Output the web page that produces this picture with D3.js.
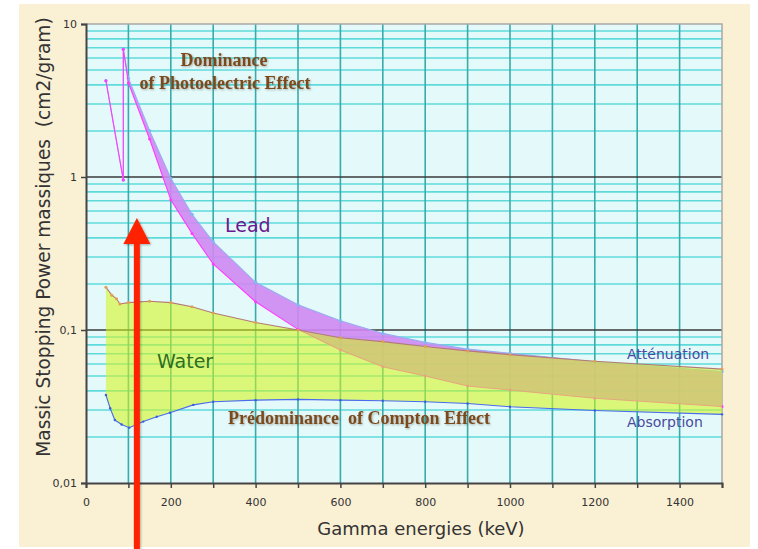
<!DOCTYPE html>
<html>
<head>
<meta charset="utf-8">
<script src="https://cdn.jsdelivr.net/npm/d3@7"></script>
<style>
  body { margin: 0; background: #fff; }
  svg { display: block; }
  .tick text { font-family: "DejaVu Sans", Verdana, sans-serif; font-size: 11px; fill: #333; }
</style>
</head>
<body>
<svg id="chart" width="758" height="549"></svg>
<script>
// energies in keV, values in cm2/gram
const leadAttE   = [47, 88, 88, 100, 150, 200, 250, 300, 400, 500, 600, 700, 800, 900, 1000, 1200, 1500];
const leadAttV   = [4.26, 0.956, 6.84, 4.42, 2.01, 0.98, 0.57, 0.377, 0.205, 0.146, 0.115, 0.095, 0.083, 0.075, 0.0705, 0.062, 0.0535];
const leadAbsE   = [47, 88, 88, 100, 150, 200, 250, 300, 400, 500, 600, 700, 800, 900, 1000, 1200, 1500];
const leadAbsV   = [4.26, 0.956, 6.84, 4.12, 1.77, 0.71, 0.428, 0.27, 0.153, 0.101, 0.074, 0.0575, 0.050, 0.043, 0.0405, 0.0358, 0.0316];
const waterAttE  = [47, 61, 72, 80, 100, 150, 200, 250, 300, 400, 500, 600, 700, 800, 900, 1000, 1200, 1500];
const waterAttV  = [0.19, 0.169, 0.16, 0.148, 0.151, 0.154, 0.151, 0.142, 0.129, 0.112, 0.100, 0.089, 0.084, 0.078, 0.073, 0.069, 0.0625, 0.0555];
const waterAbsE  = [47, 57, 68, 84, 102, 135, 167, 198, 253, 300, 400, 500, 600, 700, 800, 900, 1000, 1200, 1500];
const waterAbsV  = [0.0376, 0.0308, 0.0258, 0.0241, 0.0230, 0.0252, 0.0271, 0.0288, 0.0324, 0.034, 0.0348, 0.0352, 0.0348, 0.0345, 0.034, 0.0331, 0.0315, 0.0298, 0.0281];

const xTicks = d3.range(0, 1501, 100);
const yTicks = [0.01, 0.1, 1, 10];
const yTickLabels = ["0,01", "0,1", "1", "10"];

const svg = d3.select("#chart");
const W = 758, H = 549;
const margin = {left: 86, right: 36, top: 24, bottom: 66};

const x = d3.scaleLinear().domain([0, 1500]).range([margin.left, W - margin.right]);
const y = d3.scaleLog().domain([0.01, 10]).range([H - margin.bottom, margin.top]);

const defs = svg.append("defs");
const shadow = defs.append("filter").attr("id", "shadow").attr("x", "-20%").attr("y", "-20%").attr("width", "140%").attr("height", "140%");
shadow.append("feGaussianBlur").attr("in", "SourceAlpha").attr("stdDeviation", 1.3);
shadow.append("feOffset").attr("dx", 1.2).attr("dy", 1.2).attr("result", "off");
shadow.append("feComponentTransfer").append("feFuncA").attr("type", "linear").attr("slope", 0.3);
const merge = shadow.append("feMerge");
merge.append("feMergeNode");
merge.append("feMergeNode").attr("in", "SourceGraphic");

// page background
svg.append("rect").attr("x", 19).attr("y", 4).attr("width", 731).attr("height", 543).attr("fill", "#faf0d4");

// plot area
svg.append("rect")
    .attr("x", x(0)).attr("y", y(10))
    .attr("width", x(1500) - x(0)).attr("height", y(0.01) - y(10))
    .attr("fill", "#e4f9f9");

// minor horizontal grid
const minor = [];
[0.01, 0.1, 1].forEach(d => { for (let k = 2; k <= 9; k++) minor.push(d * k); });
svg.append("g").selectAll("line").data(minor).join("line")
    .attr("x1", x(0)).attr("x2", x(1500))
    .attr("y1", d => y(d)).attr("y2", d => y(d))
    .attr("stroke", "#5fdada").attr("stroke-width", 1.6);

// vertical grid
svg.append("g").selectAll("line").data(xTicks.filter(d => d > 0 && d < 1500)).join("line")
    .attr("x1", d => x(d)).attr("x2", d => x(d))
    .attr("y1", y(10)).attr("y2", y(0.01))
    .attr("stroke", "#3aabab").attr("stroke-width", 1.6);

// major horizontal lines
svg.append("g").selectAll("line").data([0.1, 1]).join("line")
    .attr("x1", x(0)).attr("x2", x(1500))
    .attr("y1", d => y(d)).attr("y2", d => y(d))
    .attr("stroke", "#3a3a3a").attr("stroke-width", 1.6);

// top and right border
svg.append("path")
    .attr("d", `M${x(0)},${y(10)}H${x(1500)}V${y(0.01)}`)
    .attr("fill", "none").attr("stroke", "#a8a8a8").attr("stroke-width", 1.5);

function zipData(es, vs) { return es.map((e, i) => ({e: e, v: vs[i]})); }
const leadAtt = zipData(leadAttE, leadAttV);
const leadAbs = zipData(leadAbsE, leadAbsV);
const waterAtt = zipData(waterAttE, waterAttV);
const waterAbs = zipData(waterAbsE, waterAbsV);

const line = d3.line().x(d => x(d.e)).y(d => y(d.v));
const band = d3.area()
    .x(d => x(d.e))
    .y0(d => y(d.lo))
    .y1(d => y(d.hi));

// lead band
const leadBand = leadAttE.map((e, i) => ({e: e, hi: leadAttV[i], lo: leadAbsV[i]}));
svg.append("path").datum(leadBand).attr("d", band)
    .attr("fill", "#cf88f2").attr("fill-opacity", 0.9);

function drawSeries(data, stroke, dot, r) {
  svg.append("path").datum(data).attr("d", line)
      .attr("fill", "none").attr("stroke", stroke).attr("stroke-width", 1.1);
  svg.append("g").selectAll("circle").data(data).join("circle")
      .attr("cx", d => x(d.e)).attr("cy", d => y(d.v)).attr("r", r)
      .attr("fill", dot);
}
drawSeries(leadAtt, "#96aef0", "#80b8f0", 1.7);
drawSeries(leadAbs, "#ff3cff", "#ff3cff", 1.5);

// water band: top = attenuation, bottom = absorption
const waterPoly = waterAtt.map(d => [x(d.e), y(d.v)])
    .concat(waterAbs.slice().reverse().map(d => [x(d.e), y(d.v)]));
svg.append("path")
    .attr("d", "M" + waterPoly.map(p => p.join(",")).join("L") + "Z")
    .attr("fill", "#d2f51e").attr("fill-opacity", 0.58);

drawSeries(waterAtt, "#b47a7a", "#e0a050", 1.5);
drawSeries(waterAbs, "#4a6ced", "#3a5ce0", 1.2);

// axes
const xAxis = d3.axisBottom(x)
    .tickValues(xTicks)
    .tickSize(5)
    .tickPadding(10)
    .tickFormat(d => (d % 200 === 0 && d < 1500) ? d : "");
const gx = svg.append("g").attr("transform", `translate(0,${y(0.01)})`).call(xAxis);
gx.select(".domain").attr("stroke", "#444").attr("stroke-width", 2);
gx.selectAll(".tick line").attr("stroke", "#444").attr("stroke-width", 1.5);

const yAxis = d3.axisLeft(y)
    .tickValues(yTicks)
    .tickSize(5)
    .tickPadding(4)
    .tickFormat((d, i) => yTickLabels[i]);
const gy = svg.append("g").attr("transform", `translate(${x(0)},0)`).call(yAxis);
gy.select(".domain").attr("stroke", "#444").attr("stroke-width", 2);
gy.selectAll(".tick line").attr("stroke", "#444").attr("stroke-width", 1.5);

// axis titles
svg.append("text")
    .attr("x", 421).attr("y", 535)
    .attr("text-anchor", "middle")
    .style("font-family", "DejaVu Sans, Verdana, sans-serif")
    .style("font-size", "18px").attr("fill", "#333")
    .text("Gamma energies (keV)");

svg.append("text")
    .attr("transform", "translate(50,237) rotate(-90)")
    .attr("text-anchor", "middle")
    .style("font-family", "DejaVu Sans, Verdana, sans-serif")
    .style("font-size", "18.6px").style("white-space", "pre").attr("fill", "#333")
    .text("Massic Stopping Power massiques  (cm2/gram)");

// annotations
const serif = {family: "Liberation Serif, Times New Roman, serif", color: "#7b4a1e"};
function serifText(tx, ty, anchor, str) {
  svg.append("text")
      .attr("x", tx).attr("y", ty).attr("text-anchor", anchor)
      .style("font-family", serif.family).style("font-weight", "bold")
      .style("font-size", "18px").style("white-space", "pre")
      .attr("fill", serif.color).attr("filter", "url(#shadow)")
      .text(str);
}
serifText(224, 66, "middle", "Dominance");
serifText(225, 89, "middle", "of Photoelectric Effect");
serifText(228, 424, "start", "Prédominance  of Compton Effect");

function sansText(tx, ty, size, color, str) {
  svg.append("text")
      .attr("x", tx).attr("y", ty)
      .style("font-family", "DejaVu Sans, Verdana, sans-serif")
      .style("font-size", size + "px")
      .attr("fill", color)
      .text(str);
}
sansText(225, 232, 19, "#6a1a8c", "Lead");
sansText(157, 368, 19, "#2e6e1e", "Water");
sansText(627, 359, 14, "#4a4aa0", "Atténuation");
sansText(627, 427, 14, "#4a4aa0", "Absorption");

// red arrow
const ax = x(120), aTop = y(0.54), aBase = aTop + 26;
const arrow = svg.append("g").attr("filter", "url(#shadow)");
arrow.append("rect")
    .attr("x", ax - 3).attr("y", aBase - 1)
    .attr("width", 6).attr("height", H - aBase + 1)
    .attr("fill", "#ff2200");
arrow.append("path")
    .attr("d", `M${ax},${aTop}L${ax + 13.5},${aBase}L${ax - 13.5},${aBase}Z`)
    .attr("fill", "#ff2200");
</script>
</body>
</html>
